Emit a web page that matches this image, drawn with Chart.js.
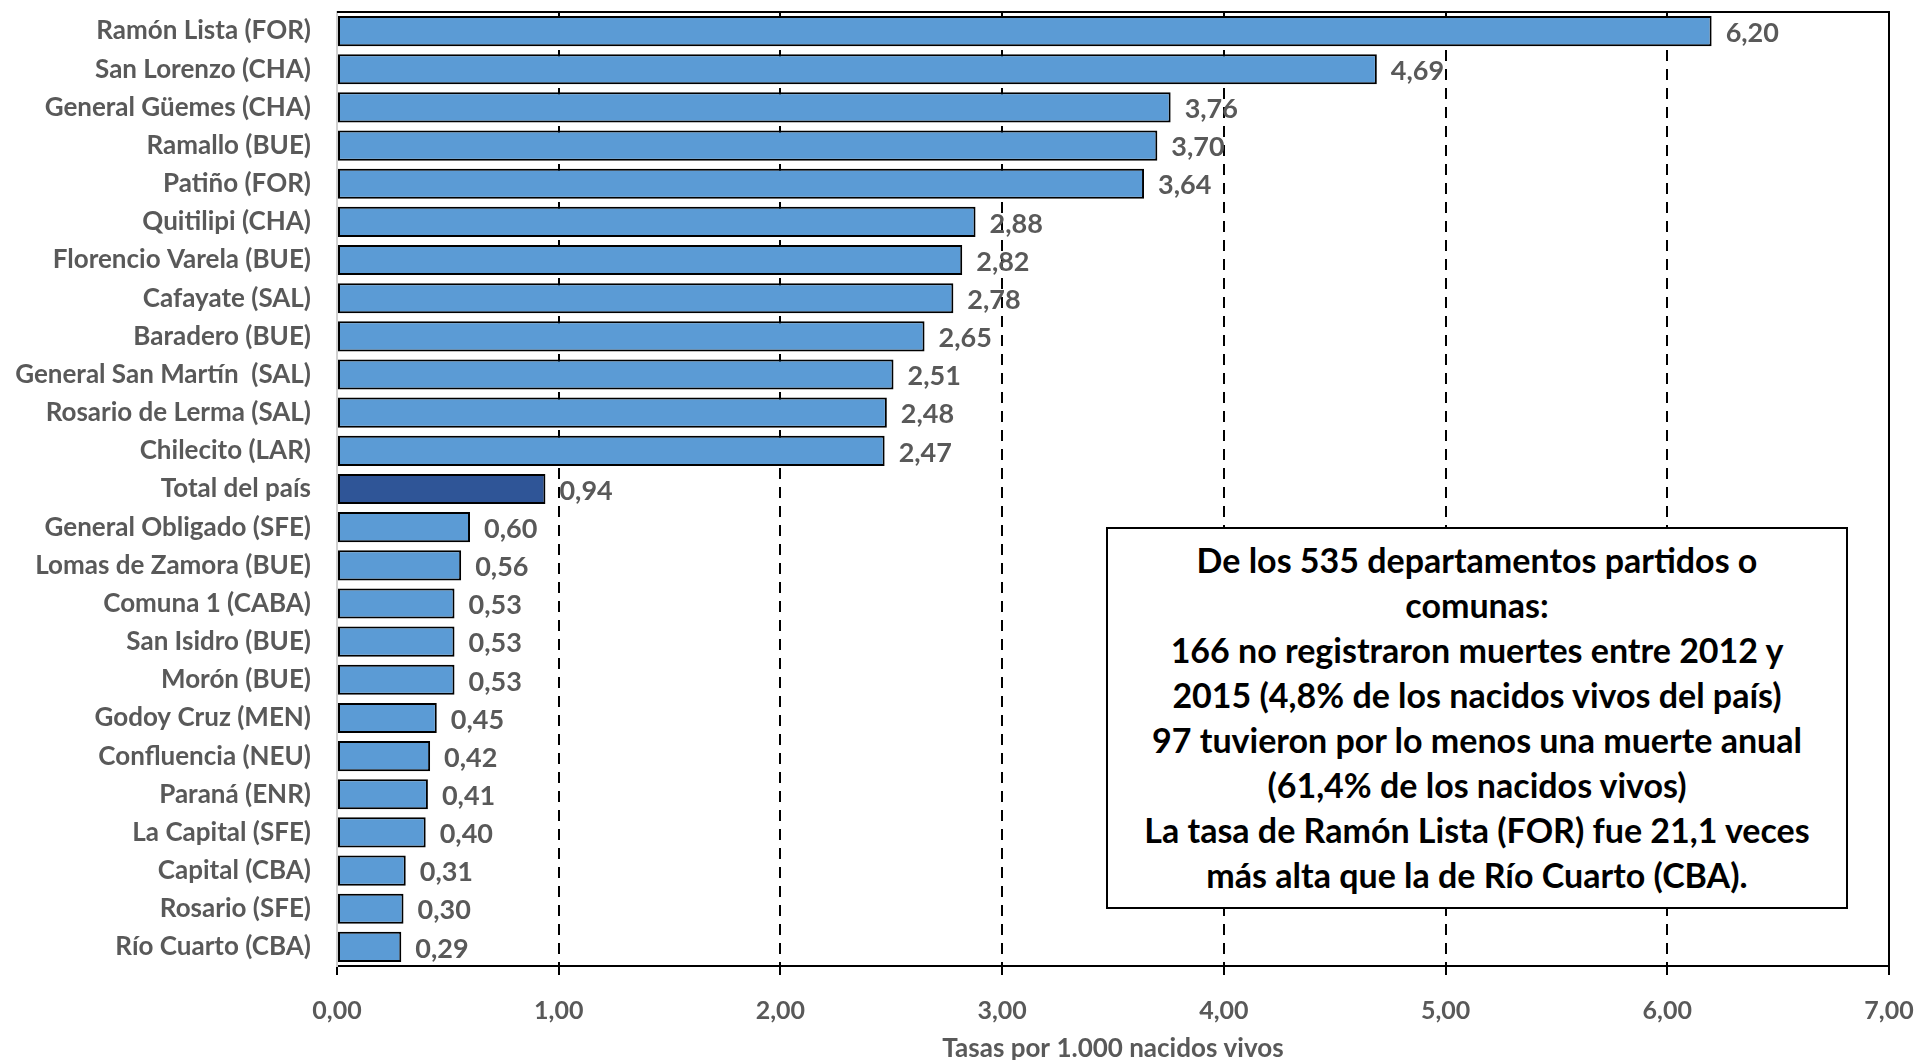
<!DOCTYPE html>
<html>
<head>
<meta charset="utf-8">
<script src="https://cdn.jsdelivr.net/npm/chart.js@4.4.1/dist/chart.umd.min.js"></script>
<style>
  html, body { margin: 0; padding: 0; background: #fff; }
  #wrap { position: relative; width: 1920px; height: 1060px; }
  #note {
    position: absolute; left: 1106px; top: 527px; width: 742px; height: 382px;
    border: 2px solid #000; background: #fff; box-sizing: border-box;
    font-family: Lato, "Open Sans", sans-serif; font-weight: bold; font-size: 34px;
    line-height: 45px; text-align: center; color: #000;
    padding-top: 8px; white-space: nowrap;
  }
</style>
</head>
<body>
<div id="wrap">
  <canvas id="canvas" width="1920" height="1060"></canvas>
  <div id="note">De los 535 departamentos partidos o<br>comunas:<br>166 no registraron muertes entre 2012 y<br>2015 (4,8% de los nacidos vivos del país)<br>97 tuvieron por lo menos una muerte anual<br>(61,4% de los nacidos vivos)<br>La tasa de Ramón Lista (FOR) fue 21,1 veces<br>más alta que la de Río Cuarto (CBA).</div>
</div>
<script>
var departamentos = ['Ramón Lista (FOR)', 'San Lorenzo (CHA)', 'General Güemes (CHA)', 'Ramallo (BUE)', 'Patiño (FOR)',
    'Quitilipi (CHA)', 'Florencio Varela (BUE)', 'Cafayate (SAL)', 'Baradero (BUE)', 'General San Martín  (SAL)',
    'Rosario de Lerma (SAL)', 'Chilecito (LAR)', 'Total del país', 'General Obligado (SFE)', 'Lomas de Zamora (BUE)',
    'Comuna 1 (CABA)', 'San Isidro (BUE)', 'Morón (BUE)', 'Godoy Cruz (MEN)', 'Confluencia (NEU)',
    'Paraná (ENR)', 'La Capital (SFE)', 'Capital (CBA)', 'Rosario (SFE)', 'Río Cuarto (CBA)'];
var tasas = [6.20, 4.69, 3.76, 3.70, 3.64, 2.88, 2.82, 2.78, 2.65, 2.51, 2.48, 2.47, 0.94,
    0.60, 0.56, 0.53, 0.53, 0.53, 0.45, 0.42, 0.41, 0.40, 0.31, 0.30, 0.29];
var ejeMin = 0, ejeMax = 7, ejePaso = 1;

var gris = '#595959';
var fuente = 'Lato, "Open Sans", sans-serif';
var fmt = function(v) { return v.toFixed(2).replace('.', ','); };

// value labels at the end of each bar
var etiquetas = {
    id: 'etiquetas',
    afterDatasetsDraw: function(chart) {
        var ctx = chart.ctx;
        var meta = chart.getDatasetMeta(0);
        ctx.save();
        ctx.font = 'bold 27px ' + fuente;
        ctx.fillStyle = gris;
        ctx.textAlign = 'left';
        ctx.textBaseline = 'middle';
        meta.data.forEach(function(bar, i) {
            ctx.fillText(fmt(tasas[i]), bar.x + 14, bar.y + 2);
        });
        ctx.restore();
    }
};

// solid frame on top and right of the plot
var marco = {
    id: 'marco',
    beforeDatasetsDraw: function(chart) {
        var a = chart.chartArea, ctx = chart.ctx;
        ctx.save();
        ctx.strokeStyle = '#000';
        ctx.lineWidth = 2;
        ctx.beginPath();
        ctx.moveTo(a.left, a.top);
        ctx.lineTo(a.right, a.top);
        ctx.lineTo(a.right, a.bottom);
        ctx.stroke();
        ctx.restore();
    }
};

var config = {
    type: 'bar',
    data: {
        labels: departamentos,
        datasets: [{
            data: tasas,
            backgroundColor: tasas.map(function(v, i) {
                return departamentos[i] === 'Total del país' ? '#2F5597' : '#5B9BD5';
            }),
            borderColor: '#000',
            borderWidth: 2,
            borderSkipped: false,
            barPercentage: 0.79,
            categoryPercentage: 1
        }]
    },
    options: {
        indexAxis: 'y',
        responsive: false,
        animation: false,
        layout: { padding: { top: 12, right: 31, left: 0, bottom: 0 } },
        plugins: {
            legend: { display: false },
            tooltip: { enabled: false }
        },
        scales: {
            x: {
                min: ejeMin,
                max: ejeMax,
                afterFit: function(scale) { scale.height = 94; scale.paddingRight = 0; },
                ticks: {
                    stepSize: ejePaso,
                    color: gris,
                    padding: 21,
                    font: { family: fuente, size: 25, weight: 'bold' },
                    callback: function(v) { return fmt(v); }
                },
                grid: {
                    color: function(c) { return c.tick && c.tick.value === 0 ? 'rgba(0,0,0,0)' : '#000'; },
                    lineWidth: 2,
                    drawTicks: true,
                    tickLength: 9,
                    tickColor: '#000',
                    tickBorderDash: []
                },
                border: { color: '#000', width: 2, dash: [11, 8] },
                title: {
                    display: true,
                    text: 'Tasas por 1.000 nacidos vivos',
                    color: gris,
                    font: { family: fuente, size: 26, weight: 'bold' },
                    padding: { top: 0, bottom: -4 }
                }
            },
            y: {
                afterFit: function(scale) { scale.width = 337; scale.paddingTop = 0; scale.paddingBottom = 0; },
                ticks: {
                    color: gris,
                    padding: 18,
                    font: { family: fuente, size: 26, weight: 'bold' }
                },
                grid: { display: false },
                border: { color: '#d0d0d0', width: 2 }
            }
        }
    },
    plugins: [marco, etiquetas]
};

window.onload = function() {
    window.grafico = new Chart(document.getElementById('canvas'), config);
};
</script>
</body>
</html>
